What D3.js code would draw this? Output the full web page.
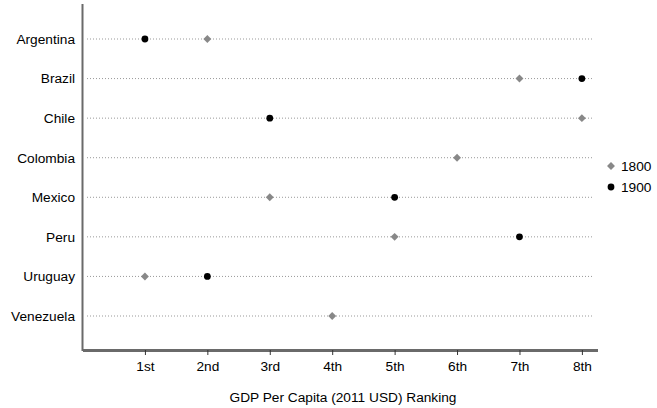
<!DOCTYPE html>
<html><head><meta charset="utf-8">
<script src="https://cdn.jsdelivr.net/npm/d3@7"></script>
<style>body{margin:0;background:#fff}text{font-family:"Liberation Sans",Arial,Helvetica,sans-serif}</style>
</head><body><svg id="c" width="657" height="408"></svg>
<script>
const countries = ["Argentina","Brazil","Chile","Colombia","Mexico","Peru","Uruguay","Venezuela"];
const rank1800 = [2,7,8,6,3,5,1,4];
const rank1900 = [1,8,3,null,5,7,2,null];
const tickLabels = ["1st","2nd","3rd","4th","5th","6th","7th","8th"];
const seriesNames = ["1800","1900"];

const FS = 13.7;
const svg = d3.select("#c");
const x = d3.scaleLinear().domain([0,8.25]).range([82.5,597.5]);
const y = d3.scalePoint().domain(countries).range([39,316]);
const axisY = 350;

svg.append("g").selectAll("line").data(countries).join("line")
  .attr("x1",87).attr("x2",592).attr("y1",d=>y(d)).attr("y2",d=>y(d))
  .attr("stroke","#999").attr("stroke-width",1).attr("stroke-dasharray","1,2");

svg.append("g").selectAll("text").data(countries).join("text")
  .attr("x",75).attr("y",d=>y(d)).attr("dy","0.35em").attr("text-anchor","end")
  .attr("font-size",FS).attr("fill","#000").text(d=>d);

svg.append("line").attr("x1",x(0)).attr("x2",x(0)).attr("y1",4).attr("y2",axisY+1)
  .attr("stroke","#6a6a6a").attr("stroke-width",2);

const xa = svg.append("g").attr("transform",`translate(0,${axisY})`)
  .call(d3.axisBottom(x).tickValues(d3.range(1,9)).tickFormat(d=>tickLabels[d-1]).tickSize(5).tickSizeOuter(0));
xa.select(".domain").attr("stroke","#6a6a6a").attr("stroke-width",3);
xa.selectAll(".tick line").attr("stroke","#333");
xa.selectAll(".tick text").attr("font-size",FS).attr("fill","#000").attr("y",11)
  .style("font-family","Liberation Sans,Arial,sans-serif");

svg.append("text").attr("x",343).attr("y",397).attr("dy","0.35em").attr("text-anchor","middle")
  .attr("font-size",FS).text("GDP Per Capita (2011 USD) Ranking");

const diamond = d3.symbol().type(d3.symbolDiamond2).size(40);
svg.append("g").selectAll("path").data(countries.map((c,i)=>({c,v:rank1800[i]})).filter(d=>d.v!=null))
  .join("path").attr("d",diamond).attr("transform",d=>`translate(${x(d.v)},${y(d.c)})`)
  .attr("fill","#888");
svg.append("g").selectAll("circle").data(countries.map((c,i)=>({c,v:rank1900[i]})).filter(d=>d.v!=null))
  .join("circle").attr("cx",d=>x(d.v)).attr("cy",d=>y(d.c)).attr("r",3.4).attr("fill","#000");

const lg = svg.append("g");
lg.append("path").attr("d",diamond).attr("transform","translate(611,166)").attr("fill","#888");
lg.append("circle").attr("cx",611).attr("cy",187).attr("r",3.4).attr("fill","#000");
lg.selectAll("text").data(seriesNames).join("text").attr("x",621).attr("y",(d,i)=>166+i*21).attr("dy","0.35em")
  .attr("font-size",FS).text(d=>d);
</script></body></html>
